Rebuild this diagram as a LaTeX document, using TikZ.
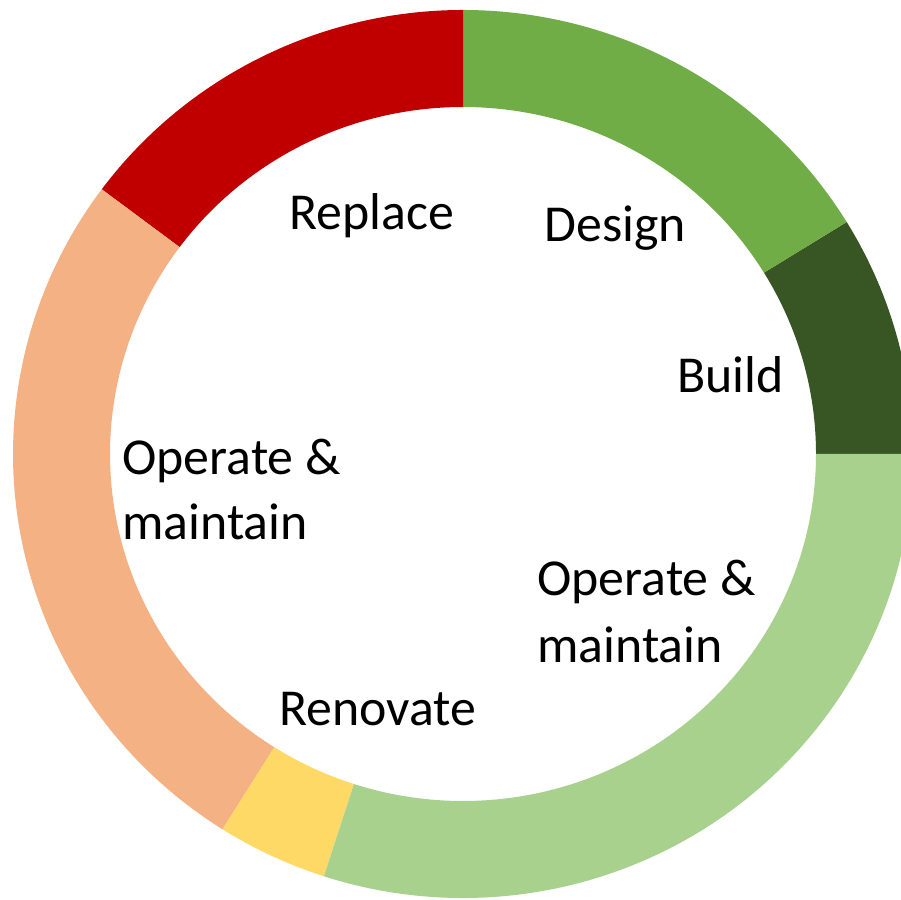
\documentclass[tikz,border=0pt]{standalone}
\usepackage{fontspec}
\setmainfont{Carlito}
\usetikzlibrary{calc}

\definecolor{replacered}{HTML}{C00000}
\definecolor{designgreen}{HTML}{70AD47}
\definecolor{buildgreen}{HTML}{375623}
\definecolor{operategreen}{HTML}{A9D18E}
\definecolor{renovateyellow}{HTML}{FFD966}
\definecolor{operateorange}{HTML}{F4B183}

\tikzset{
  phase/.style={font=\fontsize{29.5pt}{36.8pt}\selectfont, text=black, inner sep=0pt, align=left},
}

% ring segment: #1 colour, #2 start angle, #3 end angle
\newcommand{\ringpart}[3]{%
  \fill[#1] ($(O)+(#2:450 and 444)$)
    arc[start angle=#2, end angle=#3, x radius=450, y radius=444]
    -- ($(O)+(#3:353 and 347)$)
    arc[start angle=#3, end angle=#2, x radius=353, y radius=347] -- cycle;}

\begin{document}
\begin{tikzpicture}[x=0.02cm, y=0.02cm]
    \useasboundingbox (0,0) rectangle (901,899);
    \clip (0,0) rectangle (901,899);
    \fill[white] (0,0) rectangle (901,899);

    \coordinate (O) at (463,445);

    % Ring segments
    \ringpart{buildgreen}{0}{31.5}
    \ringpart{designgreen}{31.5}{90}
    \ringpart{replacered}{90}{143.4}
    \ringpart{operateorange}{143.4}{237.7}
    \ringpart{renovateyellow}{237.7}{252}
    \ringpart{operategreen}{252}{360}

    % Labels
    \node[phase, anchor=base west] (replace) at (289,669) {Replace};
    \node[phase, anchor=base west] (design) at (544,657) {Design};
    \node[phase, anchor=base west] (build) at (677,506) {Build};
    \node[phase, anchor=base west] (renovate) at (279,174) {Renovate};
    \node[phase, anchor=base west] (opleft) at (122,424) {Operate \&};
    \node[phase, anchor=base west] (opleftb) at (122,359) {maintain};
    \node[phase, anchor=base west] (opright) at (537,304) {Operate \&};
    \node[phase, anchor=base west] (oprightb) at (537,237) {maintain};
\end{tikzpicture}
\end{document}
